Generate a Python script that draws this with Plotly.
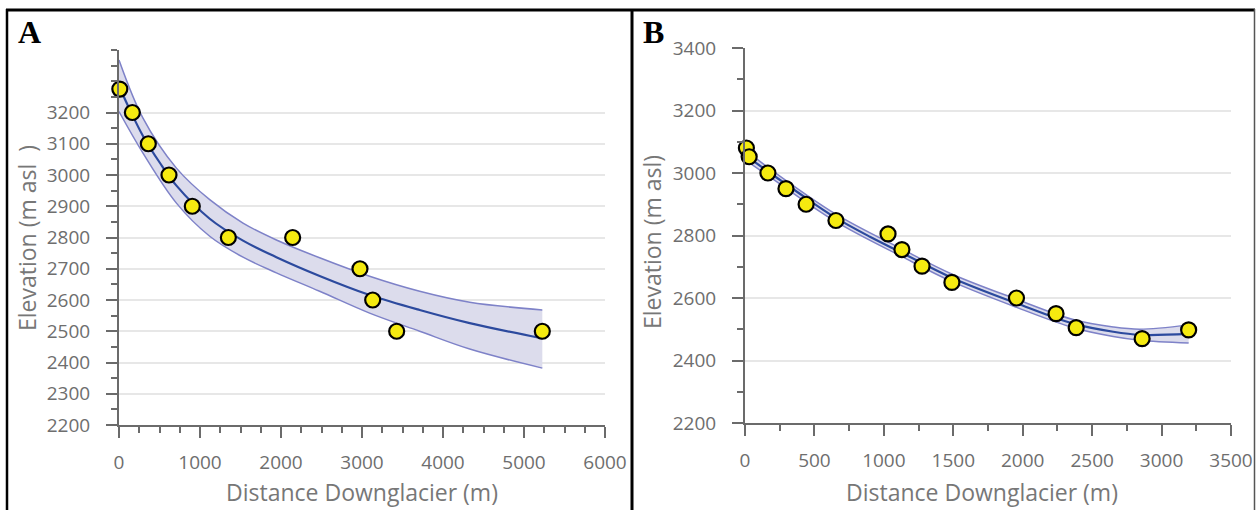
import plotly.graph_objects as go

W, H = 1256, 510

# ---------------- Panel A data ----------------
a_x = [10, 165, 362, 617, 905, 1350, 2144, 2975, 3132, 3428, 5226]
a_y = [3275, 3200, 3100, 3000, 2900, 2800, 2800, 2700, 2600, 2500, 2500]
a_fit_x = [0, 132, 296, 502, 709, 1120, 1531, 1943, 2477, 3094, 3712, 4330, 5226]
a_fit_y = [3285, 3210, 3125, 3040, 2966, 2860, 2790, 2737, 2677, 2616, 2568, 2526, 2477]
a_band_x = [0, 296, 709, 1120, 1531, 1943, 2477, 3094, 3712, 4330, 5226]
a_upper = [3368, 3182, 3022, 2921, 2846, 2792, 2735, 2676, 2628, 2593, 2568]
a_lower = [3203, 3070, 2910, 2804, 2737, 2687, 2628, 2558, 2500, 2443, 2382]
a_xticks = [0, 1000, 2000, 3000, 4000, 5000, 6000]
a_xticktext = ["0", "1000", "2000", "3000", "4000", "5000", "6000"]
a_yticks = [2200, 2300, 2400, 2500, 2600, 2700, 2800, 2900, 3000, 3100, 3200]

# ---------------- Panel B data ----------------
b_x = [10, 30, 165, 295, 440, 655, 1030, 1130, 1275, 1490, 1955, 2240, 2385, 2860, 3195]
b_y = [3080, 3052, 3000, 2950, 2900, 2848, 2805, 2755, 2702, 2650, 2600, 2550, 2505, 2470, 2498]
b_fit_x = [0, 168, 400, 648, 900, 1128, 1488, 1956, 2364, 2652, 2844, 3195]
b_fit_y = [3058, 3004, 2932, 2858, 2796, 2745, 2665, 2583, 2518, 2492, 2482, 2485]
b_band_x = [0, 168, 648, 1128, 1488, 1956, 2364, 2652, 2844, 3195]
b_upper = [3074, 3017, 2870, 2757, 2677, 2596, 2531, 2507, 2500, 2514]
b_lower = [3042, 2991, 2846, 2733, 2653, 2570, 2505, 2477, 2465, 2456]
b_xticks = [0, 500, 1000, 1500, 2000, 2500, 3000, 3500]
b_yticks = [2200, 2400, 2600, 2800, 3000, 3200, 3400]

FILL = "#dcdcec"
EDGE = "#7e82c8"
CENTER = "#2c4a9e"
YELLOW = "#f5ea10"
AXIS = "#6b6b6b"
GRID = "#e7e7e7"
TICKFONT = dict(family="Open Sans", size=19, color="#6e6e6e")
TITLEFONT = dict(family="Open Sans", size=23, color="#777777")

fig = go.Figure()


def add_panel(xs, ys, fx, fy, bx, up, lo, xa, ya):
    fig.add_trace(go.Scatter(x=bx, y=lo, mode="lines", line=dict(color=EDGE, width=1.5, shape="spline"),
                             xaxis=xa, yaxis=ya, showlegend=False, hoverinfo="skip"))
    fig.add_trace(go.Scatter(x=bx, y=up, mode="lines", line=dict(color=EDGE, width=1.5, shape="spline"),
                             fill="tonexty", fillcolor=FILL,
                             xaxis=xa, yaxis=ya, showlegend=False, hoverinfo="skip"))
    fig.add_trace(go.Scatter(x=fx, y=fy, mode="lines", line=dict(color=CENTER, width=2.2, shape="spline"),
                             xaxis=xa, yaxis=ya, showlegend=False))
    fig.add_trace(go.Scatter(x=xs, y=ys, mode="markers", cliponaxis=False,
                             marker=dict(size=15, color=YELLOW, line=dict(color="black", width=2.2)),
                             xaxis=xa, yaxis=ya, showlegend=False))


add_panel(a_x, a_y, a_fit_x, a_fit_y, a_band_x, a_upper, a_lower, "x", "y")
add_panel(b_x, b_y, b_fit_x, b_fit_y, b_band_x, b_upper, b_lower, "x2", "y2")


def px(x):
    return x / W


def py(y):
    return 1 - y / H


common_x = dict(showline=True, linecolor=AXIS, linewidth=2, ticks="outside", ticklen=11, tickwidth=2,
                tickcolor=AXIS, showgrid=False, zeroline=False, tickfont=TICKFONT, ticklabelstandoff=8,
                automargin=False)
common_y = dict(showline=True, linecolor=AXIS, linewidth=2, ticks="outside", ticklen=11, tickwidth=2,
                tickcolor=AXIS, showgrid=True, gridcolor=GRID, gridwidth=2, zeroline=False,
                tickfont=TICKFONT, ticklabelstandoff=12, automargin=False)

fig.update_layout(
    width=W, height=H, margin=dict(l=0, r=0, t=0, b=0, pad=0), autosize=False,
    paper_bgcolor="white", plot_bgcolor="white", showlegend=False,
    xaxis=dict(domain=[px(119), px(605)], range=[0, 6000], anchor="y",
               tickmode="array", tickvals=a_xticks, ticktext=a_xticktext,
               minor=dict(dtick=250, tick0=0, ticklen=6, tickwidth=2, tickcolor=AXIS, ticks="outside"),
               **common_x),
    yaxis=dict(domain=[py(425), py(50)], range=[2200, 3400], anchor="x",
               tickmode="array", tickvals=a_yticks,
               minor=dict(dtick=50, tick0=2200, ticklen=6, tickwidth=2, tickcolor=AXIS, ticks="outside"),
               **common_y),
    xaxis2=dict(domain=[px(745), px(1231)], range=[0, 3500], anchor="y2",
                tickmode="array", tickvals=b_xticks,
                minor=dict(dtick=250, tick0=0, ticklen=6, tickwidth=2, tickcolor=AXIS, ticks="outside"),
                **common_x),
    yaxis2=dict(domain=[py(423), py(48)], range=[2200, 3400], anchor="x2",
                tickmode="array", tickvals=b_yticks,
                minor=dict(dtick=100, tick0=2200, ticklen=6, tickwidth=2, tickcolor=AXIS, ticks="outside"),
                **common_y),
)

ann = [
    dict(text="<b>A</b>", x=px(16), y=py(32), xanchor="left", yanchor="middle",
         font=dict(family="Liberation Serif", size=32, color="black")),
    dict(text="<b>B</b>", x=px(641), y=py(32), xanchor="left", yanchor="middle",
         font=dict(family="Liberation Serif", size=32, color="black")),
    dict(text="Distance Downglacier (m)", x=px(362), y=py(509), xanchor="center", yanchor="bottom",
         borderpad=0, font=TITLEFONT),
    dict(text="Distance Downglacier (m)", x=px(982), y=py(509), xanchor="center", yanchor="bottom",
         borderpad=0, font=TITLEFONT),
    dict(text="Elevation (m asl\u00a0\u00a0)", x=px(27), y=py(238), xanchor="center", yanchor="middle",
         textangle=-90, font=TITLEFONT),
    dict(text="Elevation (m asl)", x=px(652), y=py(242), xanchor="center", yanchor="middle",
         textangle=-90, font=TITLEFONT),
]
for a in ann:
    a.update(xref="paper", yref="paper", showarrow=False)
fig.update_layout(annotations=ann)

shapes = [
    dict(type="line", x0=px(6), x1=px(1255), y0=py(10), y1=py(10), line=dict(color="black", width=3)),
    dict(type="line", x0=px(7), x1=px(7), y0=py(9), y1=0, line=dict(color="black", width=2.5)),
    dict(type="line", x0=px(632), x1=px(632), y0=py(9), y1=0, line=dict(color="black", width=3)),
    dict(type="line", x0=px(1254.5), x1=px(1254.5), y0=py(9), y1=0, line=dict(color="#555555", width=1.5)),
]
for s in shapes:
    s.update(xref="paper", yref="paper", layer="above")
fig.update_layout(shapes=shapes)

fig.write_html("out.html")
